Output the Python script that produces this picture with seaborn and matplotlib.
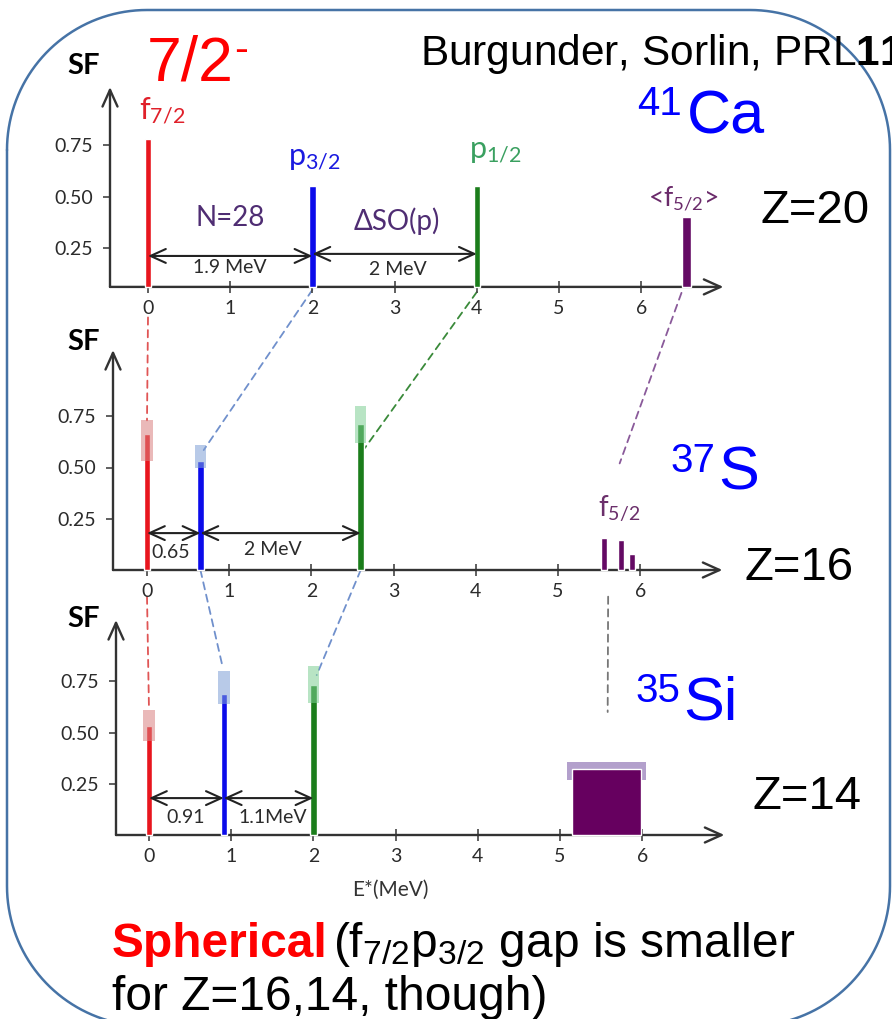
import matplotlib
matplotlib.use('Agg')
import matplotlib.pyplot as plt
import numpy as np
import seaborn as sns
from matplotlib.patches import ConnectionPatch

W, H = 892, 1019

# Spectroscopic factors (E* in MeV, SF)
# 41Ca, Z=20
ca41_energy = [0.0, 2.0, 4.0]
ca41_sf = [0.78, 0.55, 0.55]
ca41_f52_energy = [6.55]
ca41_f52_sf = [0.40]
ca41_gap_labels = ['1.9 MeV', '2 MeV']

# 37S, Z=16
s37_energy = [0.0, 0.65, 2.6]
s37_sf = [0.665, 0.53, 0.71]
s37_sf_low = [0.53, 0.50, 0.62]
s37_sf_high = [0.73, 0.61, 0.80]
s37_f52_energy = [5.56, 5.77, 5.90]
s37_f52_sf = [0.155, 0.145, 0.08]
s37_gap_labels = ['0.65', '2 MeV']

# 35Si, Z=14
si35_energy = [0.0, 0.91, 2.0]
si35_sf = [0.53, 0.69, 0.73]
si35_sf_low = [0.46, 0.64, 0.645]
si35_sf_high = [0.61, 0.80, 0.825]
si35_f52_energy = [5.57]
si35_f52_width = [0.84]
si35_f52_sf = [0.32]
si35_f52_low = [0.27]
si35_f52_high = [0.355]
si35_gap_labels = ['0.91', '1.1MeV']

x_ticks = [0, 1, 2, 3, 4, 5, 6]
y_ticks = [0.25, 0.50, 0.75]
y_tick_labels = ['0.25', '0.50', '0.75']

orbital_colors = ['#e8161e', '#0b0bea', '#1b7d1b']
box_colors = ['#d98080', '#7f9fd6', '#7fcf95']
purple = '#640a64'
label_purple = '#4f2d73'

sns.set_theme(style='white')
plt.rcParams['font.family'] = ['Lato', 'DejaVu Sans']
plt.rcParams['mathtext.fontset'] = 'custom'
plt.rcParams['mathtext.rm'] = 'Liberation Sans'
plt.rcParams['mathtext.it'] = 'Liberation Sans:italic'
plt.rcParams['mathtext.bf'] = 'Liberation Sans:bold'
plt.rcParams['mathtext.sf'] = 'Lato'

fig = plt.figure(figsize=(W / 100, H / 100), dpi=100)
fig.patch.set_facecolor('white')

# background axes in pixel units for the slide decoration
bg = fig.add_axes([0, 0, 1, 1], zorder=0)
bg.set_xlim(0, W)
bg.set_ylim(H, 0)
bg.axis('off')

# rounded slide frame (pixel coords, y down)
L, T, R, B, r = 7, 10, 890, 1026, 140
corners = [((L + r, T + r), np.pi, 1.5 * np.pi),
           ((R - r, T + r), 1.5 * np.pi, 2 * np.pi),
           ((R - r, B - r), 0, 0.5 * np.pi),
           ((L + r, B - r), 0.5 * np.pi, np.pi)]
fx, fy = [], []
for (cx, cy), a0, a1 in corners:
    th = np.linspace(a0, a1, 40)
    fx.extend(cx + r * np.cos(th))
    fy.extend(cy + r * np.sin(th))
fx.append(fx[0])
fy.append(fy[0])
bg.plot(fx, fy, color='#4673a6', lw=1.8, solid_capstyle='round')

PX_MEV = 82.2
PX_SF = 205


def make_panel(x0_px, sf0_px, yaxis_px, base_sf, top_px):
    """Axes whose data coordinates land on the slide's pixel grid."""
    left, right = 100, 740
    ytop = sf0_px - 1.1 * PX_SF
    ybot = sf0_px + 0.15 * PX_SF
    ax = fig.add_axes([left / W, 1 - ybot / H, (right - left) / W,
                       (ybot - ytop) / H], zorder=1)
    ax.set_facecolor('none')
    ax.set_xlim((left - x0_px) / PX_MEV, (right - x0_px) / PX_MEV)
    ax.set_ylim(-0.15, 1.1)
    y_e = (yaxis_px - x0_px) / PX_MEV
    top_sf = (sf0_px - top_px) / PX_SF
    for side in ['top', 'right', 'left', 'bottom']:
        ax.spines[side].set_visible(False)
    ax.spines['left'].set_position(('data', y_e))
    ax.spines['bottom'].set_position(('data', base_sf))
    ax.set_xticks(x_ticks)
    ax.set_xticklabels([str(t) for t in x_ticks])
    ax.set_yticks(y_ticks)
    ax.set_yticklabels(y_tick_labels)
    ax.tick_params(axis='x', direction='inout', length=9, width=1.2,
                   color='#444444', pad=5, labelsize=14,
                   labelcolor='#2b2b2b', bottom=True)
    ax.tick_params(axis='y', direction='out', length=5, width=1.2,
                   color='#444444', pad=7, labelsize=14,
                   labelcolor='#2b2b2b', left=True)
    head = '->, head_length=0.6, head_width=0.27'
    ax.annotate('', xy=(7.0, base_sf), xytext=(y_e, base_sf),
                arrowprops=dict(arrowstyle=head, color='#333333', lw=1.7,
                                shrinkA=0, shrinkB=0, mutation_scale=20))
    ax.annotate('', xy=(y_e, top_sf), xytext=(y_e, base_sf),
                arrowprops=dict(arrowstyle=head, color='#333333', lw=1.7,
                                shrinkA=0, shrinkB=0, mutation_scale=20))
    ax.grid(False)
    return ax


def gap_arrows(ax, energies, y, labels, label_pos):
    head = '<->, head_length=0.55, head_width=0.25'
    for i in range(len(energies) - 1):
        ax.annotate('', xy=(energies[i + 1], y), xytext=(energies[i], y),
                    arrowprops=dict(arrowstyle=head, color='#222222', lw=1.5,
                                    shrinkA=0, shrinkB=0, mutation_scale=20),
                    zorder=4)
        ax.text(label_pos[i][0], label_pos[i][1], labels[i], fontsize=14,
                color='#2b2b2b', ha='center', va='center', zorder=5)


def sf_bars(ax, energies, sf, base, low=None, high=None):
    ax.bar(energies, [v - base for v in sf], width=0.08, bottom=base,
           color=orbital_colors, zorder=3)
    if low is not None:
        ax.bar(energies, [h - l for l, h in zip(low, high)], width=0.14,
               bottom=low, color=box_colors, alpha=0.55, zorder=3.5,
               linewidth=0)


# ---- 41Ca ----
base_top = 0.059
ax1 = make_panel(148, 299, 110, base_top, 87)
sf_bars(ax1, ca41_energy, ca41_sf, base_top)
ax1.bar(ca41_f52_energy, [v - base_top for v in ca41_f52_sf], width=0.11,
        bottom=base_top, color=purple, zorder=3)
gap_arrows(ax1, [ca41_energy[0], ca41_energy[1]], 0.21, ca41_gap_labels[:1],
           [(1.0, 0.156)])
gap_arrows(ax1, [ca41_energy[1], ca41_energy[2]], 0.22, ca41_gap_labels[1:],
           [(3.04, 0.146)])
ax1.text(1.0, 0.395, 'N=28', fontsize=20, color=label_purple,
         ha='center', va='center')
ax1.text(3.03, 0.38, 'ΔSO(p)', fontsize=20, color=label_purple,
         ha='center', va='center')
ax1.text(0.17, 0.92, r'$\mathsf{f_{7/2}}$', fontsize=22, color='#e0202a',
         ha='center', va='center')
ax1.text(2.02, 0.69, r'$\mathsf{p_{3/2}}$', fontsize=22, color='#1a1ae0',
         ha='center', va='center')
ax1.text(4.22, 0.72, r'$\mathsf{p_{1/2}}$', fontsize=22, color='#3aa060',
         ha='center', va='center')
ax1.text(6.51, 0.49, r'<$\mathsf{f_{5/2}}$>', fontsize=19, color='#6a2a6a',
         ha='center', va='center')

# ---- 37S ----
ax2 = make_panel(147, 570, 113, 0.0, 350)
sf_bars(ax2, s37_energy, s37_sf, 0.0, s37_sf_low, s37_sf_high)
ax2.bar(s37_f52_energy, s37_f52_sf, width=0.07, color=purple, zorder=3)
gap_arrows(ax2, s37_energy, 0.18, s37_gap_labels,
           [(0.29, 0.083), (1.53, 0.098)])
ax2.text(5.74, 0.30, r'$\mathsf{f_{5/2}}$', fontsize=20, color='#6b2f6b',
         ha='center', va='center')

# ---- 35Si ----
ax3 = make_panel(149, 835, 116, 0.0, 620)
sf_bars(ax3, si35_energy, si35_sf, 0.0, si35_sf_low, si35_sf_high)
ax3.bar(si35_f52_energy, [h - l for l, h in zip(si35_f52_low, si35_f52_high)],
        width=0.96, bottom=si35_f52_low, color='#b3a0cc', zorder=2.5,
        linewidth=0)
ax3.bar(si35_f52_energy, si35_f52_sf, width=si35_f52_width, color='#66005f',
        zorder=3)
gap_arrows(ax3, si35_energy, 0.18, si35_gap_labels,
           [(0.45, 0.083), (1.50, 0.083)])

# dashed correspondences between the three nuclei
links = [
    (ax1, (ca41_energy[0], -0.09), ax2, (s37_energy[0], s37_sf_high[0]), '#e05555'),
    (ax1, (ca41_energy[1], 0.045), ax2, (0.69, 0.585), '#7090cc'),
    (ax1, (ca41_energy[2], 0.034), ax2, (2.65, 0.595), '#3a8a3a'),
    (ax1, (6.49, 0.03), ax2, (5.75, 0.52), '#8a5a9a'),
    (ax2, (s37_energy[0], -0.13), ax3, (si35_energy[0], si35_sf_high[0]), '#e05555'),
    (ax2, (s37_energy[1], 0.0), ax3, (0.89, 0.83), '#7090cc'),
    (ax2, (s37_energy[2], 0.0), ax3, (2.04, 0.78), '#7090cc'),
    (ax2, (5.61, -0.13), ax3, (5.58, 0.60), '#777777'),
]
for axa, pa, axb, pb, col in links:
    con = ConnectionPatch(xyA=pa, coordsA=axa.transData, xyB=pb,
                          coordsB=axb.transData, color=col, lw=1.3,
                          linestyle=(0, (4, 3)))
    fig.add_artist(con)

# slide texts (pixel coordinates)
arial = 'Liberation Sans'
for y in [66, 342, 619]:
    bg.text(84, y, 'SF', fontsize=21, fontweight='bold', color='black',
            ha='center', va='center')
bg.text(147, 80, '7/2', fontsize=45, color='#ff0000', family=arial,
        va='baseline')
bg.text(234, 62, '-', fontsize=30, color='#ff0000', family=arial,
        va='baseline')
bg.text(420, 65, r'Burgunder, Sorlin, PRL$\mathbf{11}$', fontsize=30.5,
        color='black', family=arial, va='baseline')
nuclei = [('41', 'Ca', 637, 687, 115, 133), ('37', 'S', 670, 718, 472, 490),
          ('35', 'Si', 635, 683, 702, 720)]
for mass, sym, xm, xs, ym, ys in nuclei:
    bg.text(xm, ym, mass, fontsize=29, color='#0000ff', family=arial,
            va='baseline')
    bg.text(xs, ys, sym, fontsize=44, color='#0000ff', family=arial,
            va='baseline')
for lab, x, y in [('Z=20', 760, 223), ('Z=16', 745, 580), ('Z=14', 753, 809)]:
    bg.text(x, y, lab, fontsize=34, color='black', family=arial,
            va='baseline')
bg.text(390, 890, 'E*(MeV)', fontsize=15, color='#333333', ha='center',
        va='center')
bg.text(112, 957, 'Spherical', fontsize=34.5, fontweight='bold',
        color='#ff0000', family=arial, va='baseline')
bg.text(333, 957, r'(f$_{7/2}$p$_{3/2}$ gap is smaller', fontsize=34.5,
        color='black', family=arial, va='baseline')
bg.text(112, 1010, 'for Z=16,14, though)', fontsize=34.5, color='black',
        family=arial, va='baseline')

fig.savefig('out.png', dpi=100)
